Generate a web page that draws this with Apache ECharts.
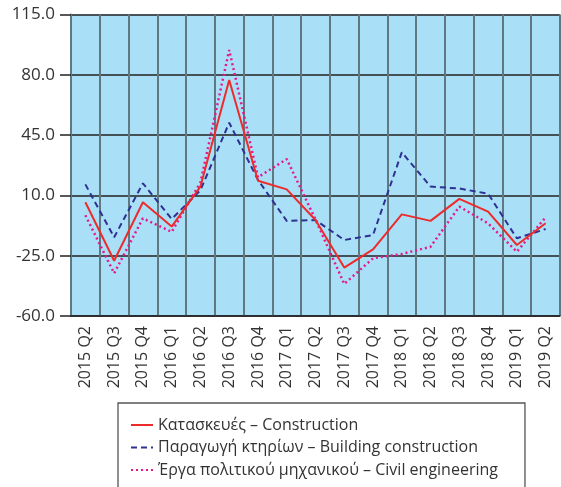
<!DOCTYPE html>
<html>
<head>
<meta charset="utf-8">
<script src="https://cdn.jsdelivr.net/npm/echarts@6/dist/echarts.min.js"></script>
<style>
  html, body { margin: 0; padding: 0; background: #fff; }
  #chart { width: 561px; height: 487px; }
</style>
</head>
<body>
<div id="chart"></div>
<script>
// quarters on the x axis
var quarters = ["2015 Q2", "2015 Q3", "2015 Q4", "2016 Q1", "2016 Q2", "2016 Q3",
  "2016 Q4", "2017 Q1", "2017 Q2", "2017 Q3", "2017 Q4", "2018 Q1", "2018 Q2",
  "2018 Q3", "2018 Q4", "2019 Q1", "2019 Q2"];

// Κατασκευές – Construction
var construction = [6.0, -27.9, 6.0, -8.1, 15.1, 77.0, 18.5, 13.5, -4.3, -31.9,
  -21.3, -1.0, -4.8, 8.0, 0.6, -18.8, -6.2];
// Παραγωγή κτηρίων – Building construction
var building = [16.4, -14.3, 17.0, -3.7, 13.0, 52.2, 19.0, -4.8, -4.3, -15.9,
  -13.0, 35.0, 15.1, 14.0, 11.0, -14.9, -9.5];
// Έργα πολιτικού μηχανικού – Civil engineering
var civil = [-1.5, -35.2, -3.3, -11.2, 17.5, 94.4, 20.5, 31.1, -4.0, -41.4,
  -26.5, -24.0, -19.8, 3.5, -6.2, -22.7, -2.7];

var yTicks = [-60, -25, 10, 45, 80, 115];

var names = [
  "Κατασκευές – Construction",
  "Παραγωγή κτηρίων – Building construction",
  "Έργα πολιτικού μηχανικού – Civil engineering"
];

var font = "'Open Sans', 'Noto Sans', sans-serif";

var myChart = echarts.init(document.getElementById("chart"));
myChart.setOption({
  animation: false,
  backgroundColor: "#fff",
  grid: {
    left: 71,
    right: 1,
    top: 14.5,
    bottom: 171,
    show: true,
    backgroundColor: "#aadff8",
    borderWidth: 0
  },
  legend: {
    orient: "vertical",
    left: 118,
    top: 403,
    height: 120,
    padding: [14, 27, 22, 12],
    borderColor: "#555",
    borderWidth: 1.3,
    itemWidth: 22,
    itemHeight: 14,
    itemGap: 6.5,
    itemStyle: { opacity: 0 },
    textStyle: { fontFamily: font, fontSize: 16, color: "#333" },
    data: names
  },
  xAxis: {
    type: "category",
    data: quarters,
    boundaryGap: true,
    axisLine: { show: true, onZero: false, lineStyle: { color: "#222", width: 1.5 } },
    axisTick: { show: false },
    axisLabel: {
      rotate: 90,
      margin: 10,
      interval: 0,
      fontFamily: font,
      fontSize: 16,
      color: "#333"
    },
    splitLine: {
      show: true,
      interval: 0,
      lineStyle: { color: "#5f7882", width: 2 }
    }
  },
  yAxis: {
    type: "value",
    min: -60,
    max: 115,
    axisLine: { show: true, lineStyle: { color: "#5f7882", width: 2 } },
    axisTick: {
      show: true,
      length: 11,
      customValues: yTicks,
      lineStyle: { color: "#222", width: 1.5 }
    },
    axisLabel: {
      customValues: yTicks,
      margin: 16,
      fontFamily: font,
      fontSize: 17,
      color: "#333",
      formatter: function (v) { return v.toFixed(1); }
    },
    splitLine: {
      show: true,
      lineStyle: { color: "#222", width: 1.5 }
    }
  },
  series: [
    {
      name: names[0],
      type: "line",
      data: construction,
      symbol: "none",
      z: 4,
      itemStyle: { color: "#ee2b2b" },
      lineStyle: { color: "#ee2b2b", width: 2 }
    },
    {
      name: names[1],
      type: "line",
      data: building,
      symbol: "none",
      z: 3,
      itemStyle: { color: "#2e3192" },
      lineStyle: { color: "#2e3192", width: 2, type: [6, 4] }
    },
    {
      name: names[2],
      type: "line",
      data: civil,
      symbol: "none",
      z: 2,
      itemStyle: { color: "#e6198c" },
      lineStyle: { color: "#e6198c", width: 2.5, type: [2, 3] }
    }
  ]
});
</script>
</body>
</html>
